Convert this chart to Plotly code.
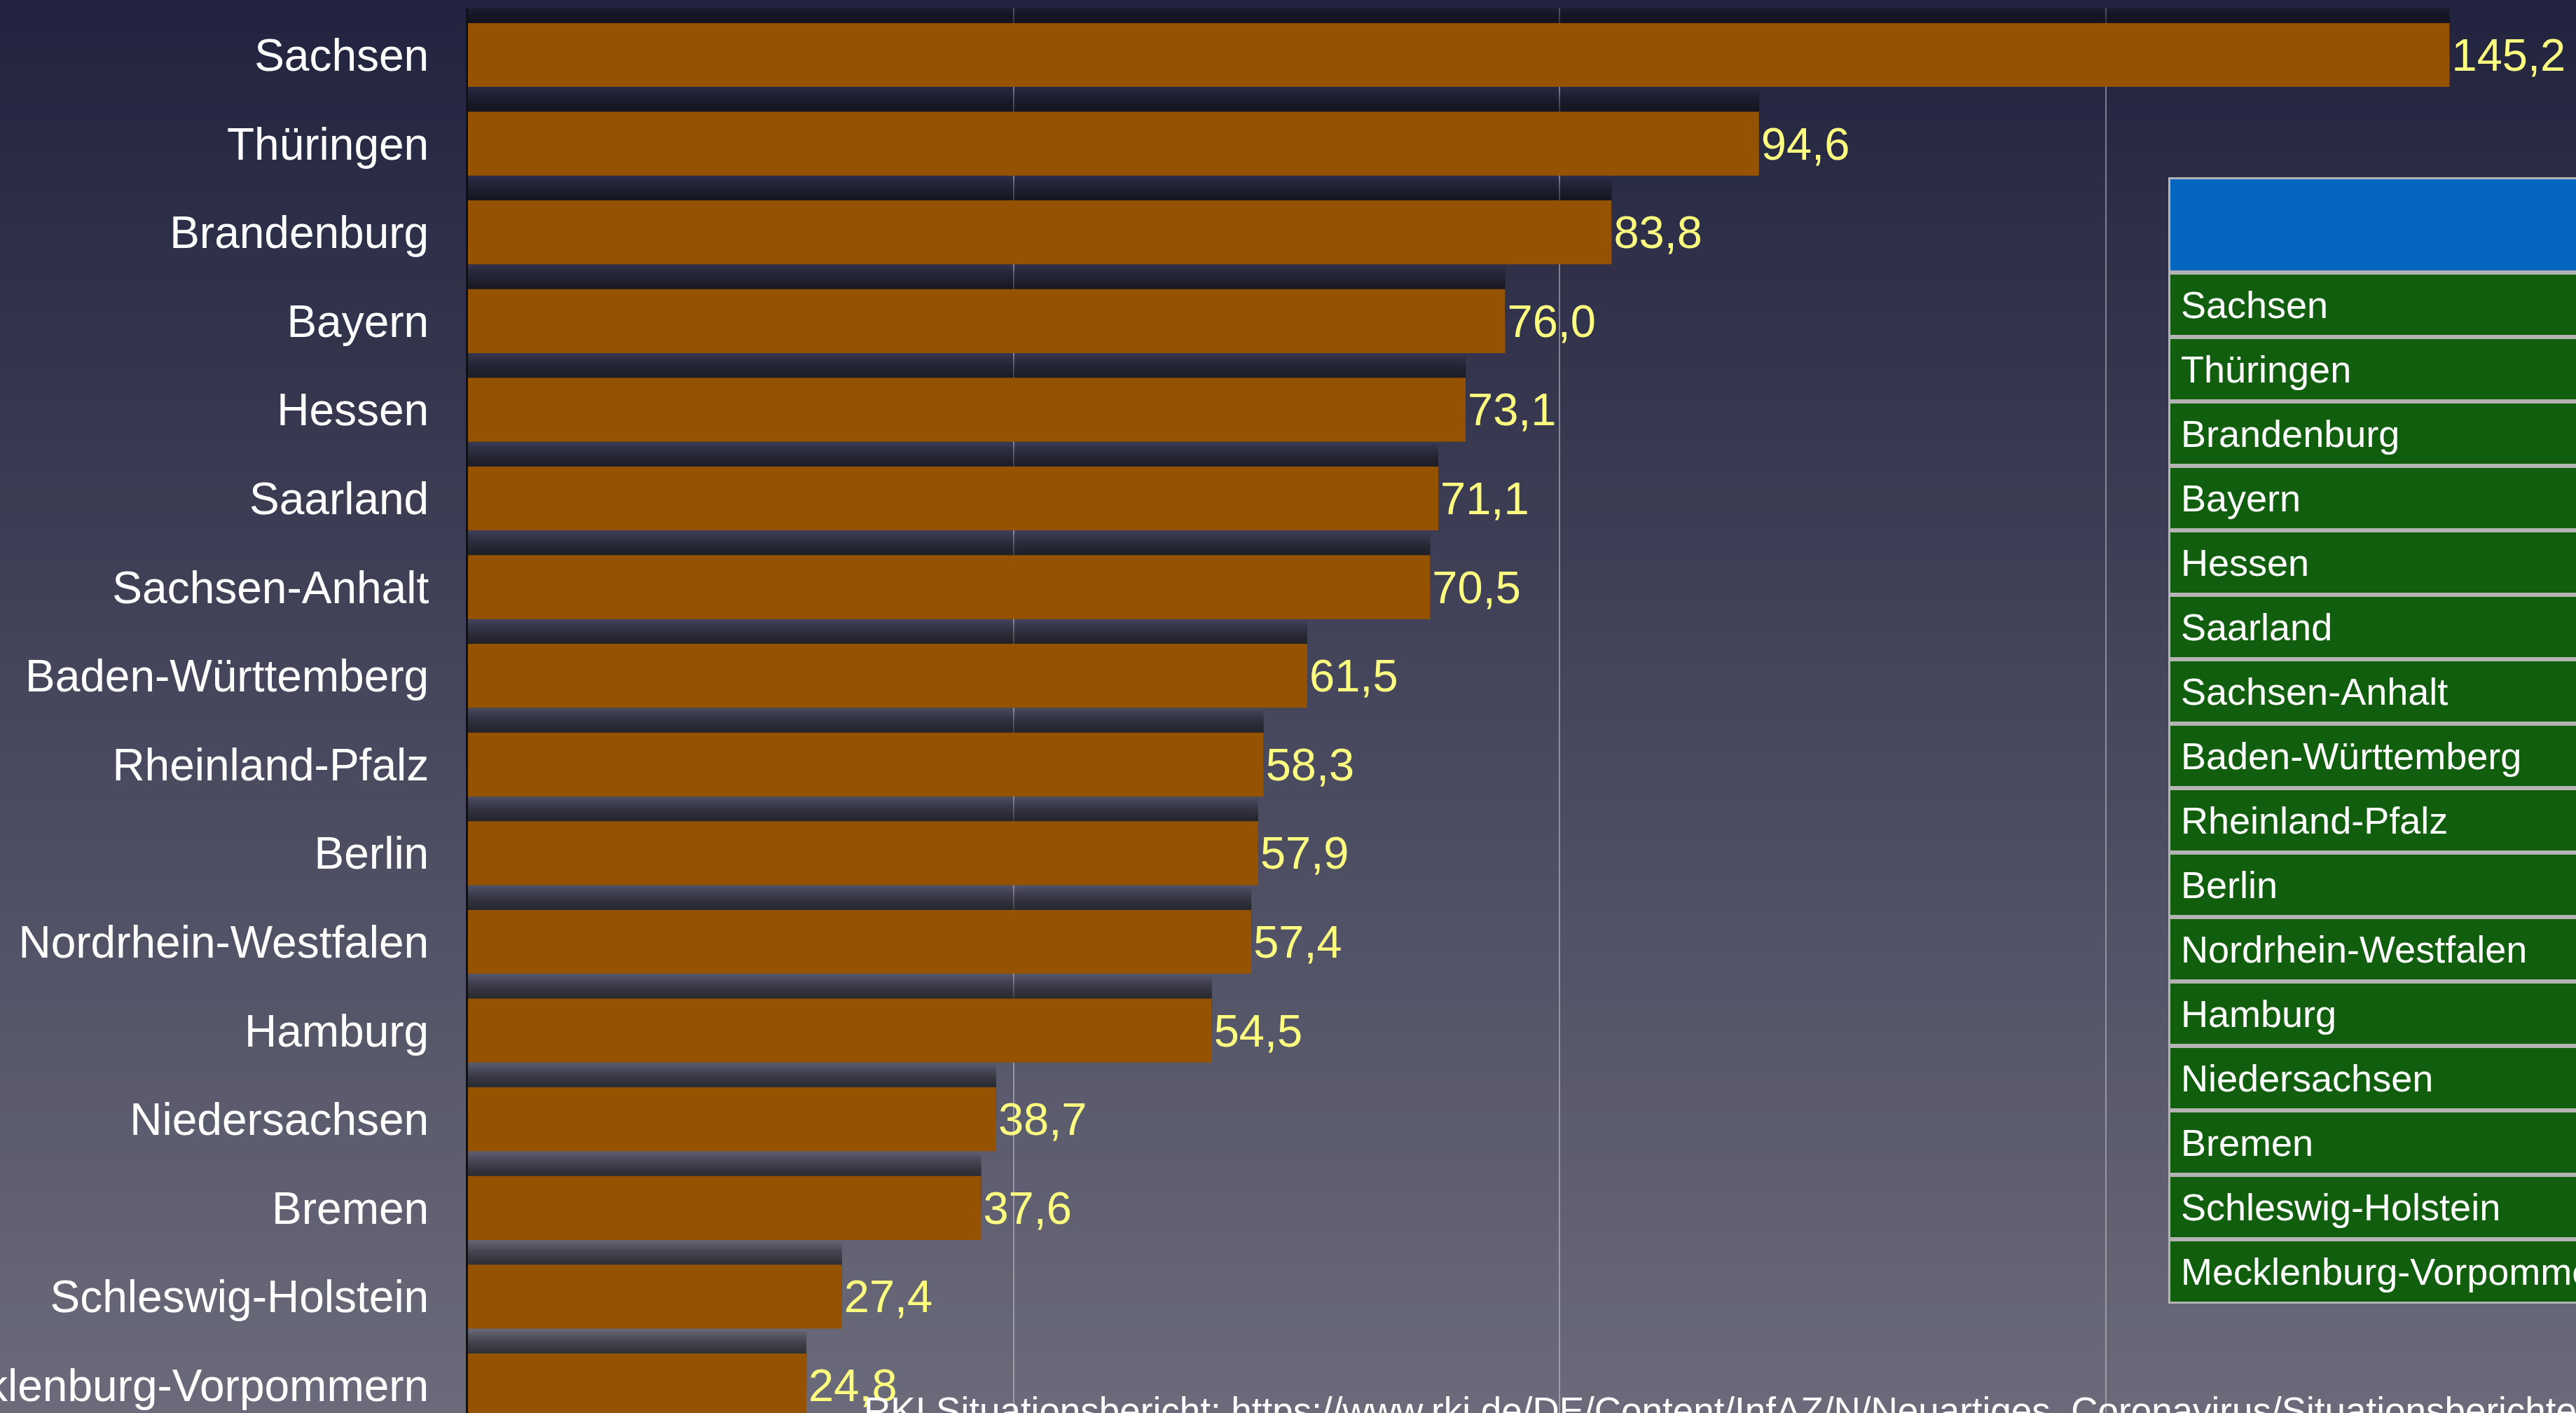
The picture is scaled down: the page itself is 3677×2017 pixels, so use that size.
import plotly.graph_objs as go

# Inzidenz je Bundesland
states = ['Sachsen', 'Thüringen', 'Brandenburg', 'Bayern', 'Hessen', 'Saarland',
          'Sachsen-Anhalt', 'Baden-Württemberg', 'Rheinland-Pfalz', 'Berlin',
          'Nordrhein-Westfalen', 'Hamburg', 'Niedersachsen', 'Bremen',
          'Schleswig-Holstein', 'Mecklenburg-Vorpommern']
values = [145.2, 94.6, 83.8, 76.0, 73.1, 71.1, 70.5, 61.5, 58.3, 57.9,
          57.4, 54.5, 38.7, 37.6, 27.4, 24.8]
value_labels = [f'{v:.1f}'.replace('.', ',') for v in values]
grid_ticks = [0, 40, 80, 120]
source_text = ('RKI Situationsbericht: https://www.rki.de/DE/Content/InfAZ/N/'
               'Neuartiges_Coronavirus/Situationsberichte/Gesamt.html')

W, H = 3677, 2017
LEFT, TOP = 668, 12
plot_h = H - TOP
plot_w = W - LEFT

BAR_W = 0.72
FONT = 'Liberation Sans, Arial, sans-serif'

fig = go.Figure()

# weiche Schatten oberhalb der Balken
for k in range(10):
    s = 0.025 * (10 - k)
    fig.add_trace(go.Bar(
        x=values, y=states, orientation='h',
        width=BAR_W / 2 + s, offset=-BAR_W / 2 - s,
        marker=dict(color='rgba(8,8,18,0.08)', line=dict(width=0)),
        hoverinfo='skip', showlegend=False))

fig.add_trace(go.Bar(
    x=values, y=states, orientation='h',
    width=BAR_W, offset=-BAR_W / 2,
    marker=dict(color='#955200', line=dict(width=0)),
    text=value_labels, textposition='outside', constraintext='none',
    cliponaxis=False,
    textfont=dict(color='#fdfd80', size=65, family=FONT),
    showlegend=False))

# Tabelle rechts (läuft über den Bildrand hinaus)
TAB_X = (3095 - LEFT) / plot_w
TAB_TOP = 253
HEAD_H = 136
ROW_H = 92
BORDER = '#b4b4b4'

annotations = [dict(text='', xref='paper', yref='paper',
                    x=TAB_X, y=(H - TAB_TOP) / plot_h,
                    xanchor='left', yanchor='top', showarrow=False,
                    width=900, height=HEAD_H - 6, bgcolor='#0466c0',
                    bordercolor=BORDER, borderwidth=3, borderpad=0)]
for i, name in enumerate(states):
    row_top = TAB_TOP + HEAD_H + i * ROW_H
    annotations.append(dict(
        text='&nbsp;' + name, xref='paper', yref='paper',
        x=TAB_X, y=(H - row_top) / plot_h,
        xanchor='left', yanchor='top', showarrow=False,
        width=900, height=ROW_H - 6, align='left', valign='middle',
        bgcolor='#115e0e', bordercolor=BORDER, borderwidth=3, borderpad=0,
        font=dict(color='white', size=54, family=FONT)))

annotations.append(dict(text=source_text, xref='paper', yref='paper',
                        x=(1231 - LEFT) / plot_w, y=(H - 1982) / plot_h,
                        xanchor='left', yanchor='top', showarrow=False,
                        font=dict(color='white', size=53, family=FONT)))

# Hintergrundverlauf
n_bands = 80
top_c = (34, 35, 62)
bot_c = (106, 106, 122)
shapes = []
for i in range(n_bands):
    t = i / (n_bands - 1)
    c = tuple(round(top_c[k] + (bot_c[k] - top_c[k]) * t) for k in range(3))
    y1 = (H - i * H / n_bands) / plot_h
    y0 = (H - (i + 1) * H / n_bands) / plot_h
    shapes.append(dict(type='rect', xref='paper', yref='paper',
                       x0=-LEFT / plot_w - 0.01, x1=1.01, y0=y0 - 0.001, y1=y1 + 0.001,
                       fillcolor=f'rgb{c}', line=dict(width=0), layer='below'))

fig.update_layout(
    width=W, height=H,
    margin=dict(l=LEFT, r=0, t=TOP, b=0, autoexpand=False),
    paper_bgcolor='#22233e', plot_bgcolor='rgba(0,0,0,0)',
    barmode='overlay',
    shapes=shapes,
    annotations=annotations,
    xaxis=dict(range=[0, plot_w / 19.48], tickvals=grid_ticks, showticklabels=False,
               showgrid=True, gridcolor='rgba(210,210,215,0.5)', gridwidth=1.5,
               zeroline=False, showline=False, fixedrange=True),
    yaxis=dict(categoryorder='array', categoryarray=states,
               range=[(H - 78.5) / 126.6, -(78.5 - TOP) / 126.6],
               showgrid=False, zeroline=False,
               showline=True, linecolor='#111111', linewidth=3,
               ticks='outside', ticklen=40, tickcolor='rgba(0,0,0,0)',
               tickfont=dict(color='white', size=64, family=FONT),
               automargin=False, fixedrange=True),
)

fig.write_html("out.html", config={'displayModeBar': False},
               post_script="document.body.style.margin='0';document.body.style.overflow='hidden';")
